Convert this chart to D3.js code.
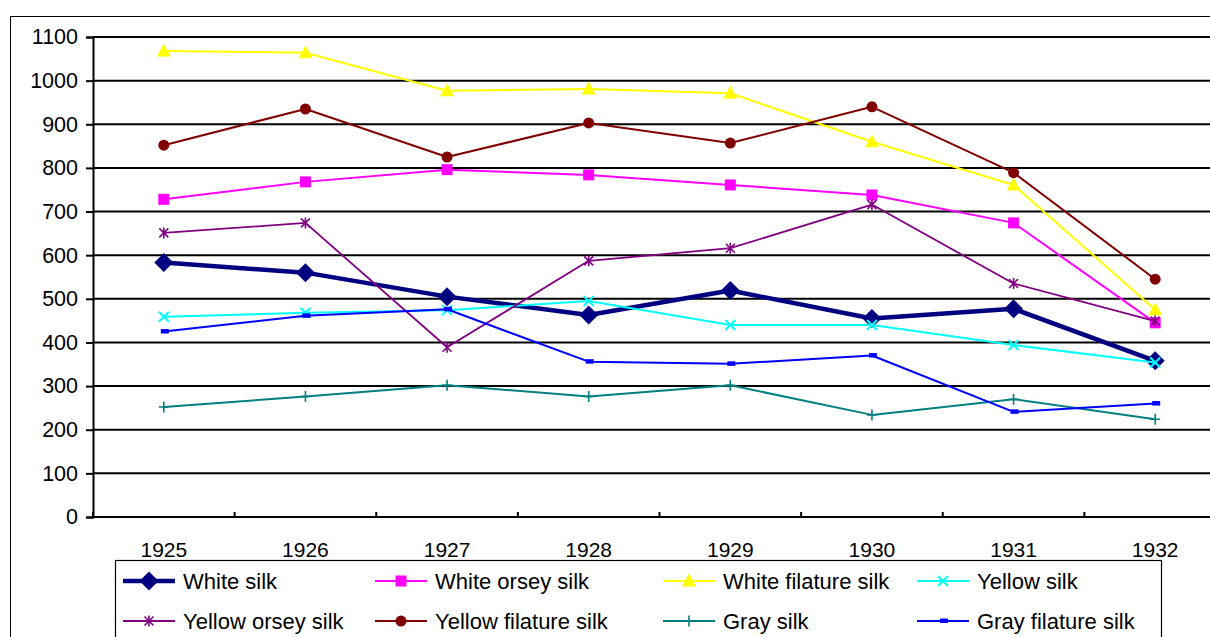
<!DOCTYPE html>
<html>
<head>
<meta charset="utf-8">
<script src="https://cdn.jsdelivr.net/npm/d3@7"></script>
<style>
  body { margin: 0; background: #fff; }
  svg { display: block; }
  text { font-family: "Liberation Sans", Arial, sans-serif; fill: #000; }
</style>
</head>
<body>
<svg id="chart" width="1210" height="637"></svg>
<script>
// Years on the category axis
const years = ["1925", "1926", "1927", "1928", "1929", "1930", "1931", "1932"];

// Price series per silk grade
const whiteSilk          = [583, 560, 505, 463, 519, 455, 477, 358];
const whiteOrseySilk     = [728, 768, 796, 784, 761, 738, 674, 445];
const whiteFilatureSilk  = [1068, 1064, 977, 981, 971, 860, 761, 475];
const yellowSilk         = [459, 468, 474, 495, 440, 440, 394, 354];
const yellowOrseySilk    = [651, 674, 389, 587, 616, 716, 535, 449];
const yellowFilatureSilk = [852, 935, 825, 903, 857, 940, 789, 545];
const graySilk           = [252, 276, 302, 276, 302, 234, 270, 224];
const grayFilatureSilk   = [425, 461, 476, 356, 351, 370, 241, 260];

// Value axis ticks
const yTicks = [0, 100, 200, 300, 400, 500, 600, 700, 800, 900, 1000, 1100];

const series = [
  { name: "White silk",           values: whiteSilk,          color: "#000080", width: 4.5, marker: "diamond" },
  { name: "White orsey silk",     values: whiteOrseySilk,     color: "#FF00FF", width: 2,   marker: "square" },
  { name: "White filature silk",  values: whiteFilatureSilk,  color: "#FFFF00", width: 2,   marker: "triangle" },
  { name: "Yellow silk",          values: yellowSilk,         color: "#00FFFF", width: 2,   marker: "x" },
  { name: "Yellow orsey silk",    values: yellowOrseySilk,    color: "#800080", width: 1.8, marker: "asterisk" },
  { name: "Yellow filature silk", values: yellowFilatureSilk, color: "#800000", width: 2,   marker: "circle" },
  { name: "Gray silk",            values: graySilk,           color: "#008080", width: 2,   marker: "plus" },
  { name: "Gray filature silk",   values: grayFilatureSilk,   color: "#0000FF", width: 2,   marker: "dash" }
];

const svg = d3.select("#chart");

// Plot area geometry
const plot = { left: 93, top: 37, right: 1226, bottom: 517 };

const x = d3.scaleBand().domain(years).range([plot.left, plot.right]).paddingInner(0).paddingOuter(0);
const y = d3.scaleLinear().domain([0, 1100]).range([plot.bottom, plot.top]);
const cx = d => x(d) + x.bandwidth() / 2;

// Outer chart frame
svg.append("rect")
  .attr("x", 10.5).attr("y", 16.5)
  .attr("width", 1260).attr("height", 700)
  .attr("fill", "none").attr("stroke", "#000").attr("stroke-width", 1);

// Horizontal gridlines
svg.append("g")
  .selectAll("line")
  .data(yTicks.filter(t => t > 0))
  .join("line")
  .attr("x1", plot.left).attr("x2", plot.right)
  .attr("y1", d => y(d)).attr("y2", d => y(d))
  .attr("stroke", "#000").attr("stroke-width", 2);

// Value axis
const yAxis = d3.axisLeft(y).tickValues(yTicks).tickSize(7).tickPadding(8).tickFormat(d3.format("d"));
const gy = svg.append("g").attr("transform", `translate(${plot.left},0)`).call(yAxis);
gy.select(".domain").attr("stroke", "#000").attr("stroke-width", 2);
gy.selectAll(".tick line").attr("stroke", "#000").attr("stroke-width", 2);
gy.selectAll(".tick text").attr("font-size", 21.5).attr("font-family", "Liberation Sans, Arial, sans-serif").attr("fill", "#000");

// Category axis: baseline, inward tick marks at category boundaries, labels at centres
const gx = svg.append("g");
gx.append("line")
  .attr("x1", plot.left).attr("x2", plot.right)
  .attr("y1", plot.bottom).attr("y2", plot.bottom)
  .attr("stroke", "#000").attr("stroke-width", 2);
const boundaries = years.map(d => x(d)).concat([x(years[years.length - 1]) + x.bandwidth()]);
gx.selectAll("line.tk")
  .data(boundaries)
  .join("line").attr("class", "tk")
  .attr("x1", d => d).attr("x2", d => d)
  .attr("y1", plot.bottom - 5).attr("y2", plot.bottom + 1)
  .attr("stroke", "#000").attr("stroke-width", 2);
gx.selectAll("text")
  .data(years)
  .join("text")
  .attr("x", d => cx(d))
  .attr("y", 557)
  .attr("text-anchor", "middle")
  .attr("font-size", 21)
  .text(d => d);

// Marker drawing
function drawMarker(g, kind, color) {
  switch (kind) {
    case "diamond":
      g.append("path").attr("d", "M0,-9.5L9.5,0L0,9.5L-9.5,0Z").attr("fill", color);
      break;
    case "square":
      g.append("rect").attr("x", -5.5).attr("y", -5.5).attr("width", 11).attr("height", 11).attr("fill", color);
      break;
    case "triangle":
      g.append("path").attr("d", "M0,-7.5L7,5.5L-7,5.5Z").attr("fill", color);
      break;
    case "x":
      g.append("path").attr("d", "M-5,-5L5,5M5,-5L-5,5").attr("stroke", color).attr("stroke-width", 2).attr("fill", "none");
      break;
    case "asterisk":
      g.append("path").attr("d", "M-4.5,-4.5L4.5,4.5M4.5,-4.5L-4.5,4.5M0,-5.5L0,5.5").attr("stroke", color).attr("stroke-width", 1.6).attr("fill", "none");
      break;
    case "circle":
      g.append("circle").attr("r", 5.5).attr("fill", color);
      break;
    case "plus":
      g.append("path").attr("d", "M0,-5.5L0,5.5M-5,0L5,0").attr("stroke", color).attr("stroke-width", 1.6).attr("fill", "none");
      break;
    case "dash":
      g.append("rect").attr("x", -3).attr("y", -2.5).attr("width", 8).attr("height", 4.5).attr("fill", color);
      break;
  }
}

// Series lines and markers
const line = d3.line().x((d, i) => cx(years[i])).y(d => y(d));
const layer = svg.append("g");
series.forEach(s => {
  const g = layer.append("g");
  g.append("path")
    .attr("d", line(s.values))
    .attr("fill", "none")
    .attr("stroke", s.color)
    .attr("stroke-width", s.width)
    .attr("stroke-linejoin", "round");
  s.values.forEach((v, i) => {
    const m = g.append("g").attr("transform", `translate(${cx(years[i])},${y(v)})`);
    drawMarker(m, s.marker, s.color);
  });
});

// Legend
const legend = svg.append("g");
legend.append("rect")
  .attr("x", 115.5).attr("y", 560.5)
  .attr("width", 1046).attr("height", 120)
  .attr("fill", "#fff").attr("stroke", "#000").attr("stroke-width", 1.2);

const colX = [123, 375, 663, 917];
const rowY = [581, 621];
series.forEach((s, i) => {
  const lx = colX[i % 4];
  const ly = rowY[Math.floor(i / 4)];
  const item = legend.append("g");
  item.append("line")
    .attr("x1", lx).attr("x2", lx + 52)
    .attr("y1", ly).attr("y2", ly)
    .attr("stroke", s.color).attr("stroke-width", s.width);
  const m = item.append("g").attr("transform", `translate(${lx + 26},${ly})`);
  drawMarker(m, s.marker, s.color);
  item.append("text")
    .attr("x", lx + 60)
    .attr("y", ly + 7.5)
    .attr("font-size", 22)
    .text(s.name);
});
</script>
</body>
</html>
